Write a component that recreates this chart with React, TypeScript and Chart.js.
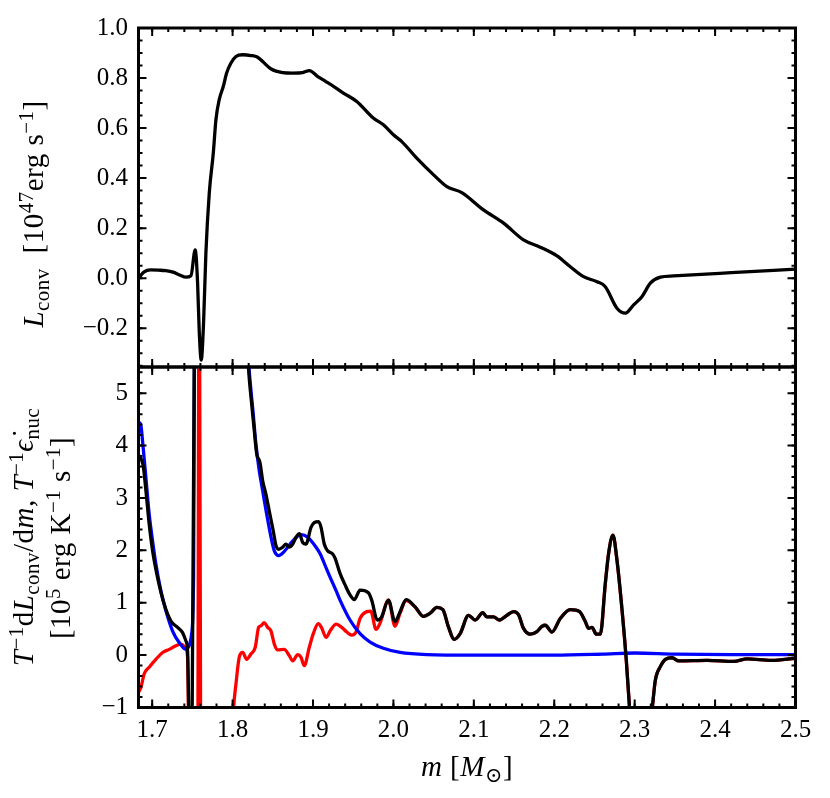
import { useEffect, useRef } from "react";
import { Chart, registerables } from "chart.js";

Chart.register(...registerables);

// ---- top panel: L_conv vs m
const M_TOP = [
  1.683, 1.69, 1.698, 1.708, 1.717, 1.726, 1.734, 1.742, 1.7482, 1.7535, 1.7565,
  1.7585, 1.761, 1.764, 1.7668, 1.771, 1.776, 1.7793, 1.7834, 1.7884, 1.7926,
  1.798, 1.8042, 1.8125, 1.8229, 1.8312, 1.8374, 1.848, 1.8623, 1.8748, 1.8872,
  1.8955, 1.906, 1.916, 1.9287, 1.9378, 1.9544, 1.975, 1.9875, 2.0, 2.0104, 2.029,
  2.05, 2.0665, 2.085, 2.112, 2.137, 2.1618, 2.1826, 2.2034, 2.22, 2.2365, 2.2532,
  2.2635, 2.278, 2.2884, 2.2987, 2.309, 2.3195, 2.332, 2.3485, 2.42, 2.5,
];
const L_TOP = [
  0.0, 0.025, 0.033, 0.032, 0.03, 0.024, 0.013, 0.004, 0.01, 0.113, -0.02,
  -0.21, -0.327, -0.17, 0.1, 0.34, 0.5, 0.634, 0.714, 0.766, 0.82,
  0.86, 0.886, 0.893, 0.89, 0.883, 0.866, 0.836, 0.822, 0.82, 0.822,
  0.83, 0.806, 0.786, 0.76, 0.74, 0.706, 0.64, 0.613, 0.573, 0.546, 0.48,
  0.413, 0.366, 0.342, 0.273, 0.22, 0.153, 0.124, 0.089, 0.046, 0.006, -0.014,
  -0.034, -0.12, -0.14, -0.107, -0.074, -0.02, 0.004, 0.009, 0.022, 0.036,
];

// ---- bottom panel: black (total), blue, red
const M_BLACK = [
  1.6835, 1.6888, 1.6922, 1.6963, 1.7005, 1.7067, 1.715, 1.7233, 1.7316, 1.7378,
  1.742, 1.744, 1.7465, 1.749, 1.7535, 1.78, 1.815, 1.82, 1.8229, 1.827, 1.83,
  1.834, 1.8374, 1.8415, 1.8456, 1.8506, 1.854, 1.8573, 1.8623, 1.8664, 1.87,
  1.8748, 1.8789, 1.883, 1.8872, 1.8913, 1.8975, 1.9016, 1.907, 1.91, 1.914,
  1.9183, 1.9245, 1.9274, 1.9336, 1.9399, 1.946, 1.9514, 1.9585, 1.9689, 1.973,
  1.98, 1.985, 1.9938, 2.002, 2.0083, 2.0158, 2.027, 2.0373, 2.0457, 2.054,
  2.0615, 2.0684, 2.0755, 2.083, 2.0933, 2.1017, 2.1112, 2.1162, 2.1244, 2.132,
  2.1411, 2.1493, 2.1556, 2.1618, 2.1701, 2.1785, 2.1847, 2.1888, 2.1971, 2.2075,
  2.2199, 2.2315, 2.2386, 2.2427, 2.2469, 2.2523, 2.2573, 2.2635, 2.2676, 2.273,
  2.278, 2.2843, 2.2896, 2.2938, 2.305, 2.3216, 2.3257, 2.3319, 2.3382, 2.3465,
  2.3548, 2.39, 2.4232, 2.44, 2.47, 2.5,
];
const BLACK = [
  3.82, 3.62, 3.14, 2.5, 1.99, 1.48, 0.97, 0.65, 0.53, 0.43,
  0.27, 0.08, -2, -3, 9, 14, 7, 5.43, 4.92, 4.28, 3.84,
  3.68, 3.33, 3.07, 2.75, 2.37, 2.09, 2.02, 2.06, 2.12, 2.06,
  2.12, 2.25, 2.32, 2.15, 2.12, 2.44, 2.53, 2.55, 2.44, 2.12,
  1.99, 1.93, 1.85, 1.56, 1.34, 1.15, 1.06, 1.24, 1.19, 1.05,
  0.67, 0.72, 1.05, 0.64, 0.83, 1.06, 0.92, 0.74, 0.8, 0.91,
  0.87, 0.54, 0.3, 0.41, 0.76, 0.67, 0.81, 0.73, 0.73, 0.67,
  0.76, 0.83, 0.77, 0.51, 0.4, 0.45, 0.55, 0.57, 0.44, 0.7,
  0.87, 0.83, 0.64, 0.51, 0.53, 0.4, 0.4, 1.37, 1.94, 2.29,
  1.81, 0.86, -0.1, -1.05, -3, -1.05, -0.48, -0.22, -0.08, -0.05,
  -0.11, -0.1, -0.12, -0.07, -0.1, -0.06,
];

const M_BLUE = [
  1.6835, 1.686, 1.6888, 1.6922, 1.6963, 1.7005, 1.7046, 1.7108, 1.717, 1.7254,
  1.7336, 1.742, 1.746, 1.749, 1.7515, 1.7535, 1.78, 1.815, 1.8207, 1.8257,
  1.829, 1.8332, 1.8374, 1.8424, 1.8478, 1.8519, 1.8573, 1.8643, 1.8748, 1.8851,
  1.8934, 1.9038, 1.9087, 1.9162, 1.9212, 1.9287, 1.9336, 1.946, 1.9585, 1.971,
  1.9875, 2.0083, 2.0415, 2.1, 2.2, 2.26, 2.3, 2.35, 2.42, 2.5,
];
const BLUE = [
  4.45, 4.38, 3.96, 3.39, 2.69, 2.18, 1.74, 1.23, 0.85, 0.46,
  0.24, 0.11, 0.18, 0.4, 1.5, 9, 15, 6.8, 5.43, 4.6,
  4.03, 3.52, 3.14, 2.69, 2.25, 1.99, 1.9, 1.98, 2.18, 2.3,
  2.25, 2.06, 1.94, 1.67, 1.49, 1.23, 1.05, 0.67, 0.41, 0.25,
  0.13, 0.05, 0.01, 0.0, 0.0, 0.02, 0.04, 0.02, 0.01, 0.01,
];

const M_RED = [
  1.6835, 1.686, 1.69, 1.6963, 1.7046, 1.713, 1.7212, 1.7295, 1.7357, 1.7411,
  1.744, 1.746, 1.7565, 1.7585, 1.7605, 1.78, 1.797, 1.8013, 1.8042, 1.8083,
  1.8125, 1.8175, 1.8228, 1.8282, 1.8324, 1.8353, 1.8394, 1.8436, 1.8478, 1.8519,
  1.8561, 1.8643, 1.8705, 1.8748, 1.881, 1.885, 1.8892, 1.8954, 1.9004, 1.9066,
  1.9108, 1.9162, 1.922, 1.9287, 1.9357, 1.942, 1.9482, 1.9535, 1.9585, 1.9669,
  1.9718, 1.9784, 1.9834, 1.9938, 2.002, 2.0083, 2.0158, 2.027, 2.0373, 2.0457,
  2.054, 2.0615, 2.0684, 2.0755, 2.083, 2.0933, 2.1017, 2.1112, 2.1162, 2.1244,
  2.132, 2.1411, 2.1493, 2.1556, 2.1618, 2.1701, 2.1785, 2.1847, 2.1888, 2.1971,
  2.2075, 2.2199, 2.2315, 2.2386, 2.2427, 2.2469, 2.2523, 2.2573, 2.2635, 2.2676,
  2.273, 2.278, 2.2843, 2.2896, 2.2938, 2.305, 2.3216, 2.3257, 2.3319, 2.3382,
  2.3465, 2.3548, 2.39, 2.4232, 2.44, 2.47, 2.5,
];
const RED = [
  -0.7, -0.62, -0.36, -0.23, -0.08, 0.05, 0.11, 0.18, 0.21, 0.15,
  -0.04, -2, -2.5, 9, -3, -4, -2.5, -1.0, -0.55, -0.04,
  0.05, -0.08, 0.02, 0.15, 0.53, 0.56, 0.62, 0.53, 0.46, 0.21,
  0.1, 0.11, -0.01, -0.11, 0.01, -0.04, -0.2, 0.15, 0.41, 0.6,
  0.52, 0.34, 0.48, 0.59, 0.53, 0.44, 0.38, 0.44, 0.7, 0.83,
  0.84, 0.49, 0.61, 1.05, 0.55, 0.8, 1.04, 0.92, 0.74, 0.8,
  0.91, 0.87, 0.54, 0.3, 0.41, 0.76, 0.67, 0.81, 0.73, 0.73,
  0.67, 0.76, 0.83, 0.77, 0.51, 0.4, 0.45, 0.55, 0.57, 0.44,
  0.7, 0.87, 0.83, 0.64, 0.51, 0.53, 0.4, 0.4, 1.37, 1.94,
  2.29, 1.81, 0.86, -0.1, -1.05, -3, -1.05, -0.48, -0.22, -0.08,
  -0.05, -0.11, -0.1, -0.12, -0.07, -0.1, -0.06,
];

// ---- ticks
const X_TICKS = [1.7, 1.8, 1.9, 2.0, 2.1, 2.2, 2.3, 2.4, 2.5];
const TOP_Y_TICKS = [-0.2, 0.0, 0.2, 0.4, 0.6, 0.8, 1.0];
const BOT_Y_TICKS = [-1, 0, 1, 2, 3, 4, 5];

const X_MIN = 1.683;
const X_MAX = 2.5;

const steps = (from: number, to: number, step: number) => {
  const out: number[] = [];
  for (let v = from; v <= to + 1e-9; v += step) out.push(Math.round(v * 1000) / 1000);
  return out;
};
const X_MINOR = steps(1.7, 2.5, 0.02);
const TOP_Y_MINOR = steps(-0.35, 1.0, 0.05);
const BOT_Y_MINOR = steps(-1, 5.4, 0.2);

const FONT = "'Liberation Serif', 'DejaVu Serif', serif";
const minus = (s: string) => s.replace("-", "\u2212");

const pts = (xs: number[], ys: number[]) => xs.map((x, i) => ({ x, y: ys[i] }));

// inward ticks on all four sides + thick frame
function frameTicks(xMajor: number[], xMinor: number[], yMajor: number[], yMinor: number[]) {
  return {
    id: "frameTicks",
    afterDatasetsDraw(chart: any) {
      const { ctx, chartArea: a, scales } = chart;
      const sx = scales.x;
      const sy = scales.y;
      ctx.save();
      ctx.strokeStyle = "#000";
      ctx.lineWidth = 2;
      const xt = (vals: number[], len: number) => {
        vals.forEach((v) => {
          const p = sx.getPixelForValue(v);
          if (p < a.left + 1 || p > a.right - 1) return;
          ctx.beginPath();
          ctx.moveTo(p, a.bottom);
          ctx.lineTo(p, a.bottom - len);
          ctx.moveTo(p, a.top);
          ctx.lineTo(p, a.top + len);
          ctx.stroke();
        });
      };
      const yt = (vals: number[], len: number) => {
        vals.forEach((v) => {
          const p = sy.getPixelForValue(v);
          if (p < a.top + 1 || p > a.bottom - 1) return;
          ctx.beginPath();
          ctx.moveTo(a.left, p);
          ctx.lineTo(a.left + len, p);
          ctx.moveTo(a.right, p);
          ctx.lineTo(a.right - len, p);
          ctx.stroke();
        });
      };
      xt(xMinor, 4);
      xt(xMajor, 8);
      yt(yMinor, 4);
      yt(yMajor, 8);
      ctx.lineWidth = 3;
      ctx.strokeRect(a.left, a.top, a.right - a.left, a.bottom - a.top);
      ctx.restore();
    },
  };
}

const lineDs = (data: any, color: string) => ({
  data,
  borderColor: color,
  borderWidth: 3.3,
  pointRadius: 0,
  cubicInterpolationMode: "monotone" as const,
  fill: false,
});

export default function App() {
  const topRef = useRef<HTMLCanvasElement>(null);
  const botRef = useRef<HTMLCanvasElement>(null);

  useEffect(() => {
    if (!topRef.current || !botRef.current) return;

    const tickFont = { family: FONT, size: 25 };

    const top = new Chart(topRef.current, {
      type: "line",
      data: { datasets: [lineDs(pts(M_TOP, L_TOP), "#000")] },
      options: {
        responsive: false,
        animation: false,
        layout: { padding: { left: 0, right: 34.5, top: 28, bottom: 33 } },
        plugins: { legend: { display: false }, tooltip: { enabled: false } },
        scales: {
          x: { type: "linear", min: X_MIN, max: X_MAX, display: false },
          y: {
            type: "linear",
            min: -0.355,
            max: 1.0,
            grid: { display: false, drawTicks: false },
            border: { display: false },
            ticks: {
              font: tickFont,
              color: "#000",
              padding: 10.5,
              callback: (v: any) => minus(Number(v).toFixed(1)),
            },
            afterBuildTicks: (s: any) => {
              s.ticks = TOP_Y_TICKS.map((value) => ({ value }));
            },
            afterFit: (s: any) => {
              s.width = 138.5;
            },
          },
        },
      },
      plugins: [frameTicks(X_TICKS, X_MINOR, TOP_Y_TICKS, TOP_Y_MINOR)],
    });

    const bot = new Chart(botRef.current, {
      type: "line",
      data: {
        datasets: [
          lineDs(pts(M_BLACK, BLACK), "#000"),
          lineDs(pts(M_BLUE, BLUE), "#0000ff"),
          lineDs(pts(M_RED, RED), "#ff0000"),
        ],
      },
      options: {
        responsive: false,
        animation: false,
        layout: { padding: { left: 0, right: 34.5, top: 27, bottom: 0 } },
        plugins: { legend: { display: false }, tooltip: { enabled: false } },
        scales: {
          x: {
            type: "linear",
            min: X_MIN,
            max: X_MAX,
            grid: { display: false, drawTicks: false },
            border: { display: false },
            ticks: {
              font: tickFont,
              color: "#000",
              padding: 8,
              maxRotation: 0,
              autoSkip: false,
              callback: (v: any) => Number(v).toFixed(1),
            },
            afterBuildTicks: (s: any) => {
              s.ticks = X_TICKS.map((value) => ({ value }));
            },
            afterFit: (s: any) => {
              s.height = 90.5;
            },
          },
          y: {
            type: "linear",
            min: -1,
            max: 5.5,
            grid: { display: false, drawTicks: false },
            border: { display: false },
            ticks: {
              font: tickFont,
              color: "#000",
              padding: 10.5,
              callback: (v: any) => minus(String(v)),
            },
            afterBuildTicks: (s: any) => {
              s.ticks = BOT_Y_TICKS.map((value) => ({ value }));
            },
            afterFit: (s: any) => {
              s.width = 138.5;
            },
          },
        },
      },
      plugins: [frameTicks(X_TICKS, X_MINOR, BOT_Y_TICKS, BOT_Y_MINOR)],
    });

    return () => {
      top.destroy();
      bot.destroy();
    };
  }, []);

  const sup = (t: string) => (
    <span style={{ fontSize: "0.72em", position: "relative", top: "-0.5em", lineHeight: 0 }}>{t}</span>
  );
  const sub = (t: string) => (
    <span style={{ fontSize: "0.72em", position: "relative", top: "0.3em", lineHeight: 0 }}>{t}</span>
  );
  const titleText: React.CSSProperties = {
    position: "absolute",
    whiteSpace: "nowrap",
    fontSize: 29,
    lineHeight: "32px",
    letterSpacing: "0.5px",
  };
  const rotated = (cx: number, cy: number): React.CSSProperties => ({
    ...titleText,
    left: cx,
    top: cy,
    transform: "translate(-50%, -50%) rotate(-90deg)",
  });

  return (
    <div
      style={{
        position: "absolute",
        left: 0,
        top: 0,
        width: 830,
        height: 798,
        background: "#fff",
        fontFamily: FONT,
        color: "#000",
        overflow: "hidden",
      }}
    >
      <canvas
        ref={topRef}
        width={830}
        height={400}
        style={{ position: "absolute", left: 0, top: 0, width: 830, height: 400 }}
      />
      <canvas
        ref={botRef}
        width={830}
        height={458}
        style={{ position: "absolute", left: 0, top: 340, width: 830, height: 458 }}
      />

      {/* y titles */}
      <div style={rotated(33, 214)}>
        <i>L</i>
        {sub("conv")}
        {"\u2002"}[10{sup("47")}erg s{sup("\u22121")}]
      </div>
      <div style={rotated(23, 537)}>
        <i>T</i>
        {sup("\u22121")}d<i>L</i>
        {sub("conv")}/d<i>m</i>, <i>T</i>
        {sup("\u22121")}
        <i>{"\u03F5\u0307"}</i>
        {sub("nuc")}
      </div>
      <div style={rotated(60, 538)}>
        [10{sup("5")} erg K{sup("\u22121")} s{sup("\u22121")}]
      </div>

      {/* x title */}
      <div
        style={{
          ...titleText,
          left: 467,
          top: 766,
          transform: "translate(-50%, -50%)",
        }}
      >
        <i>m</i> [<i>M</i>
        {sub("\u2299")}]
      </div>
    </div>
  );
}
